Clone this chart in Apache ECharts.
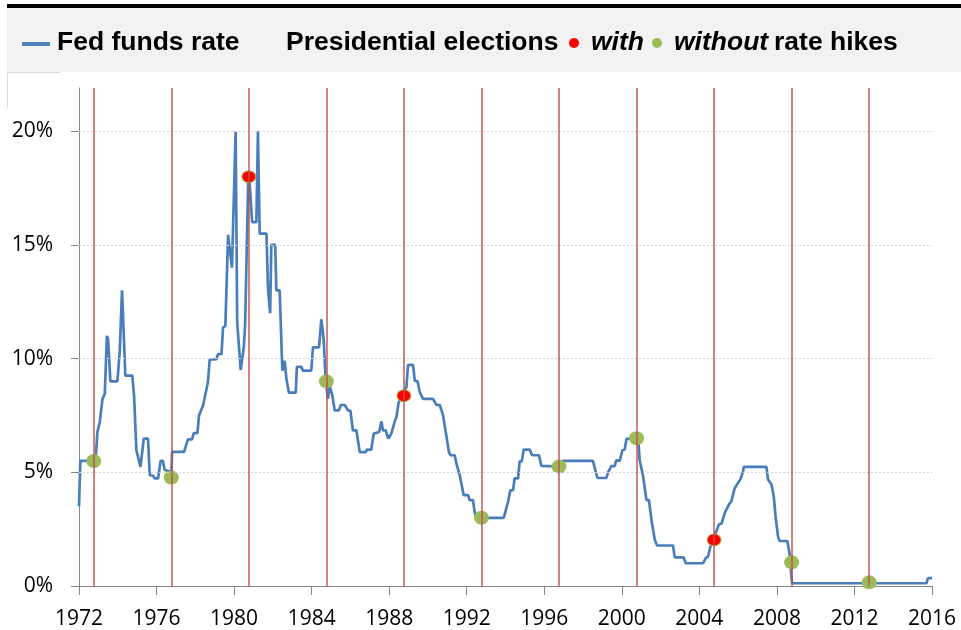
<!DOCTYPE html>
<html>
<head>
<meta charset="utf-8">
<title>Fed funds rate and presidential elections</title>
<script src="https://cdn.jsdelivr.net/npm/echarts@6/dist/echarts.min.js"></script>
<style>
  html, body { margin: 0; padding: 0; background: #ffffff; }
  #chart { width: 961px; height: 630px; }
</style>
</head>
<body>
<div id="chart"></div>
<script>
// Effective fed funds rate, [year, percent]
const fedFundsRate = [
  [1972.00,3.5],[1972.07,5.5],[1972.85,5.5],[1972.95,6.78],[1973.07,7.2],[1973.16,7.28],[1973.21,8.23],
  [1973.33,8.45],[1973.44,11.0],[1973.50,10.85],[1973.62,9.0],[1973.98,9.0],[1974.10,10.3],[1974.22,13.0],
  [1974.31,13.0],[1974.39,9.25],[1974.75,9.25],[1974.84,8.37],[1974.96,5.97],[1975.17,5.24],[1975.34,6.48],
  [1975.56,6.48],[1975.65,4.87],[1975.82,4.85],[1975.90,4.73],[1976.08,4.73],[1976.21,5.5],[1976.33,5.5],
  [1976.42,5.1],[1976.64,5.05],[1976.77,4.98],[1976.80,5.9],[1977.42,5.9],[1977.62,6.45],[1977.83,6.45],
  [1977.92,6.72],[1978.11,6.72],[1978.19,7.5],[1978.40,7.94],[1978.65,8.96],[1978.74,9.95],[1979.09,9.98],
  [1979.17,10.2],[1979.35,10.2],[1979.43,11.36],[1979.55,11.44],[1979.69,15.45],[1979.77,15.45],[1979.89,14.0],
  [1979.95,14.0],[1980.08,20.0],[1980.12,20.0],[1980.16,11.6],[1980.34,9.5],[1980.42,9.5],[1980.50,10.5],
  [1980.57,11.5],[1980.73,17.9],[1980.78,18.0],[1980.86,18.0],[1980.93,16.0],[1981.15,16.0],[1981.23,20.0],
  [1981.27,20.0],[1981.32,15.5],[1981.67,15.5],[1981.75,13.04],[1981.86,12.0],[1981.92,15.0],[1982.12,15.0],
  [1982.18,13.0],[1982.35,13.0],[1982.49,9.47],[1982.61,9.9],[1982.70,9.1],[1982.83,8.5],[1983.18,8.5],
  [1983.24,9.64],[1983.47,9.64],[1983.55,9.47],[1983.98,9.47],[1984.07,10.49],[1984.38,10.49],[1984.50,11.73],
  [1984.57,11.73],[1984.62,10.85],[1984.72,9.1],[1984.84,8.23],[1984.93,8.81],[1985.07,8.37],[1985.19,7.72],
  [1985.41,7.72],[1985.50,7.96],[1985.71,7.96],[1985.88,7.72],[1986.00,7.7],[1986.13,6.84],[1986.31,6.84],
  [1986.48,5.89],[1986.79,5.89],[1986.85,6.0],[1987.08,6.0],[1987.20,6.7],[1987.48,6.77],[1987.60,7.24],
  [1987.68,6.84],[1987.82,6.84],[1987.96,6.48],[1988.11,6.7],[1988.29,7.24],[1988.37,7.42],[1988.49,8.08],
  [1988.68,8.37],[1988.80,8.59],[1988.89,8.74],[1988.97,9.72],[1989.23,9.72],[1989.32,9.03],[1989.46,9.0],
  [1989.58,8.52],[1989.75,8.23],[1990.26,8.23],[1990.44,7.96],[1990.61,7.96],[1990.78,7.5],[1990.95,6.6],
  [1991.08,5.9],[1991.16,5.75],[1991.38,5.75],[1991.47,5.38],[1991.64,4.87],[1991.84,4.0],[1992.07,4.0],
  [1992.15,3.78],[1992.32,3.78],[1992.41,3.25],[1992.49,3.0],[1993.91,3.0],[1994.13,3.7],[1994.25,4.21],
  [1994.39,4.21],[1994.47,4.73],[1994.65,4.73],[1994.73,5.48],[1994.84,5.48],[1994.94,6.0],[1995.25,6.0],
  [1995.37,5.75],[1995.73,5.75],[1995.85,5.28],[1996.90,5.25],[1996.96,5.5],[1998.51,5.5],[1998.74,4.75],
  [1999.20,4.75],[1999.29,5.0],[1999.46,5.27],[1999.63,5.27],[1999.72,5.53],[1999.89,5.5],[2000.03,5.97],
  [2000.15,6.0],[2000.24,6.47],[2000.84,6.5],[2000.92,5.53],[2001.09,4.87],[2001.27,3.78],[2001.40,3.78],
  [2001.53,2.9],[2001.70,2.03],[2001.82,1.78],[2002.64,1.78],[2002.73,1.26],[2003.19,1.26],[2003.30,1.0],
  [2004.19,1.0],[2004.33,1.23],[2004.45,1.3],[2004.57,1.74],[2004.70,2.03],[2004.88,2.42],[2005.01,2.71],
  [2005.15,2.75],[2005.31,3.22],[2005.41,3.25],[2005.53,3.59],[2005.65,3.73],[2005.82,4.29],[2005.94,4.46],
  [2006.12,4.7],[2006.25,5.02],[2006.29,5.24],[2007.46,5.24],[2007.54,4.68],[2007.72,4.46],[2007.84,3.92],
  [2007.94,2.98],[2008.06,2.17],[2008.14,1.98],[2008.54,1.98],[2008.66,1.37],[2008.78,0.12],[2015.71,0.12],
  [2015.79,0.35],[2016.00,0.35]
];

// Presidential elections: date, rate at the time, whether rates were hiked
const electionDates = [1972.76, 1976.76, 1980.76, 1984.76, 1988.76, 1992.76, 1996.76, 2000.76, 2004.76, 2008.76, 2012.76];
const electionRates = [5.5, 4.77, 18.0, 9.0, 8.37, 3.0, 5.25, 6.5, 2.03, 1.04, 0.16];
const withRateHike  = [false, false, true, false, true, false, false, false, true, false, false];

// Axis ticks
const yearTicks = [1972, 1976, 1980, 1984, 1988, 1992, 1996, 2000, 2004, 2008, 2012, 2016];
const percentTicks = [0, 5, 10, 15, 20];

const withHike = [], withoutHike = [];
electionDates.forEach((d, i) => {
  (withRateHike[i] ? withHike : withoutHike).push([d, electionRates[i]]);
});

const chart = echarts.init(document.getElementById('chart'), null, { renderer: 'canvas' });

const labelFont = '"Open Sans", sans-serif';
const legendFont = 'bold 26.5px "Liberation Sans", Arial, sans-serif';
const legendItalic = 'italic bold 26.5px "Liberation Sans", Arial, sans-serif';
const legendY = 43;

chart.setOption({
  animation: false,
  backgroundColor: '#ffffff',
  grid: { left: 79, right: 29, top: 88, bottom: 42, containLabel: false },
  xAxis: {
    type: 'value',
    min: 1972, max: 2016, interval: 4,
    axisLine: { show: true, lineStyle: { color: '#868686', width: 1 } },
    axisTick: { show: true, length: 9, lineStyle: { color: '#868686' } },
    axisLabel: {
      color: '#000', fontFamily: labelFont, fontSize: 21, margin: 23,
      formatter: v => yearTicks.includes(v) ? String(v) : ''
    },
    splitLine: { show: false }
  },
  yAxis: {
    type: 'value',
    min: 0, max: 21.9, interval: 5,
    axisLine: { show: true, lineStyle: { color: '#868686', width: 1 } },
    axisTick: { show: true, length: 8, customValues: percentTicks, lineStyle: { color: '#868686' } },
    axisLabel: {
      color: '#000', fontFamily: labelFont, fontSize: 21, margin: 26,
      customValues: percentTicks,
      formatter: v => percentTicks.includes(v) ? v + '%' : ''
    },
    splitLine: { show: false }
  },
  graphic: [
    { type: 'rect', shape: { x: 7, y: 4, width: 954, height: 4 }, style: { fill: '#000' }, silent: true },
    { type: 'rect', shape: { x: 7, y: 8, width: 954, height: 64 }, style: { fill: '#F2F2F2' }, silent: true },
    { type: 'polyline', shape: { points: [[60, 72.5], [7.5, 72.5], [7.5, 108]] }, style: { stroke: '#D9D9D9', fill: null, lineWidth: 1 }, silent: true },
    { type: 'rect', shape: { x: 22, y: legendY - 1, width: 28, height: 4 }, style: { fill: '#4F81BD' }, silent: true },
    { type: 'text', x: 57, y: legendY, style: { text: 'Fed funds rate', font: legendFont, fill: '#000', verticalAlign: 'middle' }, silent: true },
    { type: 'text', x: 286, y: legendY, style: { text: 'Presidential elections', font: legendFont, fill: '#000', verticalAlign: 'middle' }, silent: true },
    { type: 'circle', shape: { cx: 574, cy: legendY, r: 5 }, style: { fill: '#FF0000' }, silent: true },
    { type: 'text', x: 591, y: legendY, style: { text: 'with', font: legendItalic, fill: '#000', verticalAlign: 'middle' }, silent: true },
    { type: 'circle', shape: { cx: 657, cy: legendY, r: 5 }, style: { fill: '#9BBB59' }, silent: true },
    { type: 'text', x: 674, y: legendY, style: { text: 'without', font: legendItalic, fill: '#000', verticalAlign: 'middle' }, silent: true },
    { type: 'text', x: 774, y: legendY, style: { text: 'rate hikes', font: legendFont, fill: '#000', verticalAlign: 'middle' }, silent: true }
  ],
  series: [
    {
      // horizontal dotted gridlines
      type: 'line', data: [], silent: true, z: 1,
      markLine: {
        silent: true, symbol: 'none', animation: false,
        label: { show: false },
        lineStyle: { color: '#D4D4D4', width: 1, type: [2, 2] },
        data: percentTicks.filter(v => v > 0).map(v => ({ yAxis: v }))
      }
    },
    {
      // election day markers
      type: 'line', data: [], silent: true, z: 2,
      markLine: {
        silent: true, symbol: 'none', animation: false,
        label: { show: false },
        emphasis: { disabled: true },
        lineStyle: { color: '#C0504D', width: 1.5, type: 'solid', opacity: 0.95 },
        data: electionDates.map(d => ({ xAxis: d }))
      }
    },
    {
      name: 'Fed funds rate',
      type: 'line', data: fedFundsRate, z: 3,
      showSymbol: false, symbol: 'none',
      lineStyle: { color: '#4A7EBB', width: 2.7 },
      emphasis: { disabled: true }
    },
    {
      name: 'without rate hikes',
      type: 'scatter', data: withoutHike, z: 4,
      symbol: 'circle', symbolSize: [15, 14],
      itemStyle: { color: '#9BBB59', opacity: 1 },
      emphasis: { disabled: true }
    },
    {
      name: 'with rate hikes',
      type: 'scatter', data: withHike, z: 4,
      symbol: 'circle', symbolSize: [14, 12],
      itemStyle: { color: '#FF0000', borderColor: '#A5B85A', borderWidth: 1, opacity: 1 },
      emphasis: { disabled: true }
    }
  ]
});
</script>
</body>
</html>
